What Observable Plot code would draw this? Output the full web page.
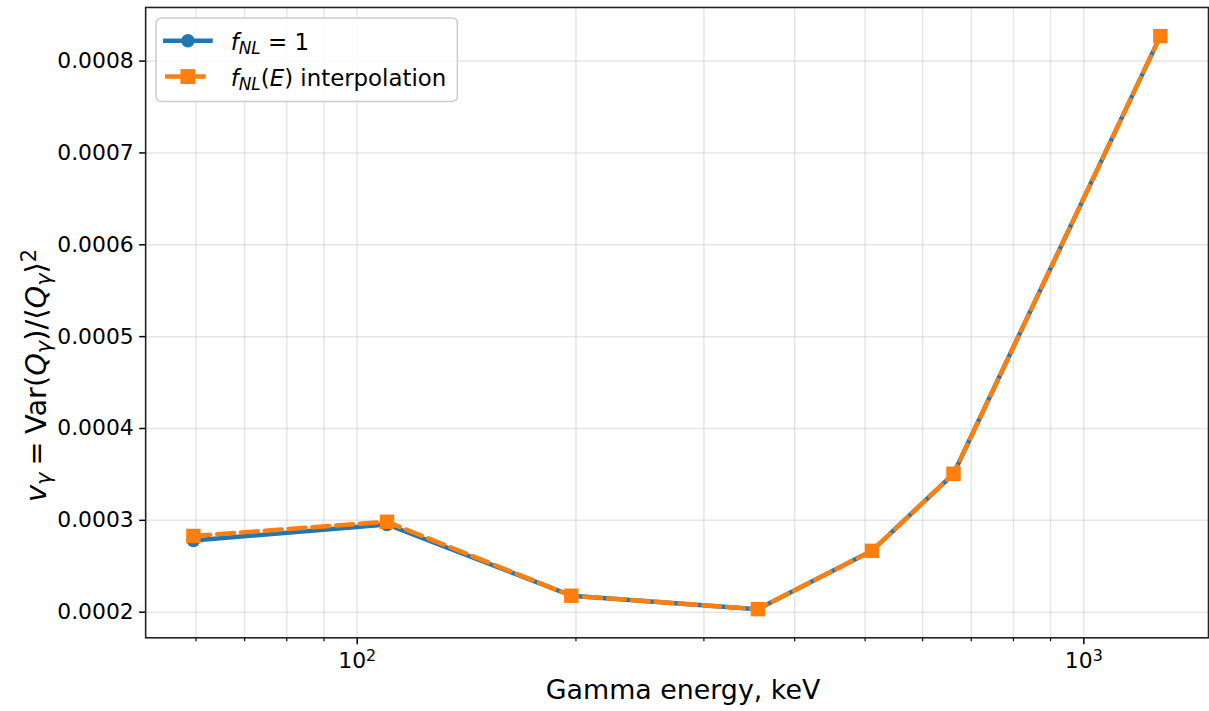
<!DOCTYPE html>
<html><head><meta charset="utf-8">
<script src="https://cdn.jsdelivr.net/npm/d3@7"></script>
<script src="https://cdn.jsdelivr.net/npm/@observablehq/plot@0.6"></script>
<style>
html,body{margin:0;padding:0;background:#fff;overflow:hidden;}
#chart{position:relative;width:1209px;height:711px;overflow:hidden;}
svg text{font-family:"DejaVu Sans",sans-serif;}
</style></head><body><div id="chart"></div>
<script>
// Data
const energy   = [59.5, 109.9, 197.1, 356.0, 511.0, 661.7, 1274.5];
const vFnl1    = [0.000278, 0.0002955, 0.000218, 0.0002033, 0.0002668, 0.0003507, 0.0008272];
const vInterp  = [0.000283, 0.0002984, 0.0002179, 0.0002033, 0.0002668, 0.0003507, 0.0008272];
const yTicks   = [0.0002, 0.0003, 0.0004, 0.0005, 0.0006, 0.0007, 0.0008];
const xMajorTicks = [100, 1000];
const xTickBase = ["10", "10"];
const xTickExp  = ["2", "3"];
const xMinorTicks = [60, 70, 80, 90, 200, 300, 400, 500, 600, 700, 800, 900];
const xLabel = "Gamma energy, keV";

const blueC = "#1f77b4", orangeC = "#ff7f0e";
const fnl1Data = energy.map((e, i) => ({e, v: vFnl1[i]}));
const interpData = energy.map((e, i) => ({e, v: vInterp[i]}));

const plot = Plot.plot({
  width: 1216, height: 711,
  marginLeft: 146, marginRight: 1, marginTop: 7, marginBottom: 70,
  style: {fontFamily: "DejaVu Sans", fontSize: "22px", color: "#000", background: "#fff", overflow: "visible"},
  x: {type: "log", domain: [51.15, 1484.5]},
  y: {domain: [0.0001721, 0.0008584]},
  marks: [
    Plot.gridX(xMajorTicks.concat(xMinorTicks), {stroke: "#b0b0b0", strokeOpacity: 0.32, strokeWidth: 1.5}),
    Plot.gridY(yTicks, {stroke: "#b0b0b0", strokeOpacity: 0.32, strokeWidth: 1.5}),
    Plot.axisY(yTicks, {tickSize: 6, tickPadding: 6, tickFormat: d => d.toFixed(4), label: null, strokeWidth: 1.5}),
    Plot.axisX(xMajorTicks, {tickSize: 7, tickPadding: 8, tickFormat: d => "X" + xMajorTicks.indexOf(d), label: null, strokeWidth: 1.5}),
    Plot.axisX(xMinorTicks, {tickSize: 4, tickFormat: () => "", label: null, strokeWidth: 1.2}),
    Plot.frame({stroke: "#222", strokeWidth: 1.6}),
    Plot.line(fnl1Data, {x: "e", y: "v", stroke: blueC, strokeWidth: 4.5}),
    Plot.dot(fnl1Data, {x: "e", y: "v", r: 6.8, fill: blueC, stroke: null}),
    Plot.line(interpData, {x: "e", y: "v", stroke: orangeC, strokeWidth: 4.5, strokeDasharray: "17,7"}),
    Plot.dot(interpData, {x: "e", y: "v", symbol: "square", r: 8.2, fill: orangeC, stroke: null})
  ]
});
document.getElementById("chart").appendChild(plot);

const svg = d3.select(plot);
// x tick labels as 10^n with real superscripts
svg.selectAll("text").each(function() {
  const t = this.textContent;
  if (/^X\d$/.test(t)) {
    const i = +t[1];
    const sel = d3.select(this);
    sel.text("");
    sel.append("tspan").text(xTickBase[i]);
    sel.append("tspan").attr("baseline-shift", "42%").attr("font-size", 16).text(xTickExp[i]);
  }
});

// x axis label
svg.append("text").attr("x", 687).attr("y", 703).attr("text-anchor", "middle")
  .attr("font-size", 27).attr("fill", "#000").text(xLabel);

// y axis label with math formatting
const yl = svg.append("text").attr("transform", "translate(46,505) rotate(-90)")
  .attr("text-anchor", "start").attr("font-size", 29).attr("fill", "#000");
const parts = [
  ["v", "italic", null],
  ["\u03B3", "italic", "sub"],
  ["\u2005=\u2005Var(", "normal", null],
  ["Q", "italic", null],
  ["\u03B3", "italic", "sub"],
  [")/\u27E8", "normal", null],
  ["Q", "italic", null],
  ["\u03B3", "italic", "sub"],
  ["\u27E9", "normal", null],
  ["2", "normal", "super"]
];
parts.forEach(([t, st, sh]) => {
  const ts = yl.append("tspan").attr("font-style", st).text(t);
  if (sh) ts.attr("baseline-shift", sh === "sub" ? "-22%" : "48%").attr("font-size", 21);
});

// legend
const lg = svg.append("g").attr("text-anchor", "start");
lg.append("rect").attr("x", 157).attr("y", 18).attr("width", 303).attr("height", 84).attr("rx", 5)
  .attr("fill", "#fff").attr("fill-opacity", 0.85).attr("stroke", "#cccccc").attr("stroke-width", 1.5);
lg.append("line").attr("x1", 164).attr("x2", 214).attr("y1", 41).attr("y2", 41)
  .attr("stroke", blueC).attr("stroke-width", 4.5);
lg.append("circle").attr("cx", 189).attr("cy", 41).attr("r", 6.8).attr("fill", blueC);
lg.append("line").attr("x1", 166).attr("x2", 212).attr("y1", 77).attr("y2", 77)
  .attr("stroke", orangeC).attr("stroke-width", 4.5).attr("stroke-dasharray", "17,7");
lg.append("rect").attr("x", 181.5).attr("y", 69.5).attr("width", 15).attr("height", 15).attr("fill", orangeC);

function mathText(y, parts) {
  const t = lg.append("text").attr("x", 232).attr("y", y).attr("text-anchor", "start")
    .attr("font-size", 23).attr("fill", "#000");
  parts.forEach(([s, st, sh]) => {
    const ts = t.append("tspan").attr("font-style", st).text(s);
    if (sh) ts.attr("baseline-shift", "-25%").attr("font-size", 17);
  });
}
mathText(50, [["f", "italic", null], ["NL", "italic", "sub"], [" = 1", "normal", null]]);
mathText(86, [["f", "italic", null], ["NL", "italic", "sub"], ["(", "normal", null], ["E", "italic", null], [") interpolation", "normal", null]]);
</script>
</body></html>
